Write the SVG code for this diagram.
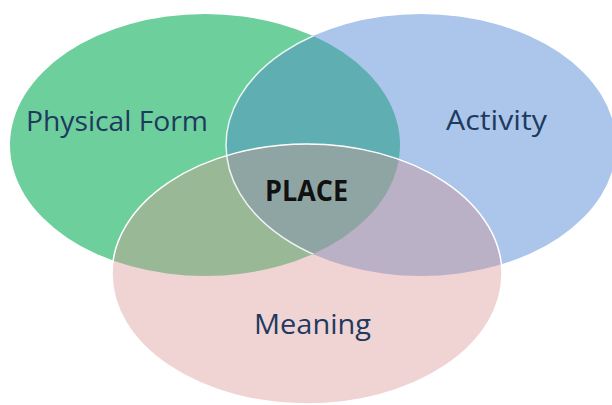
<svg xmlns="http://www.w3.org/2000/svg" width="612" height="405" viewBox="0 0 612 405">
<style>
.lbl{font-family:"Open Sans","Noto Sans","Liberation Sans",sans-serif;font-size:28px;fill:#1F3A5F}
.core{font-family:"Open Sans","Noto Sans","Liberation Sans",sans-serif;font-size:29px;font-weight:bold;fill:#111111}
</style>
<defs>
<clipPath id="cG"><ellipse cx="205" cy="145" rx="195" ry="131"/></clipPath>
<clipPath id="cB"><ellipse cx="421" cy="145" rx="195" ry="131"/></clipPath>
<clipPath id="cP"><ellipse cx="307" cy="274" rx="195" ry="130"/></clipPath>
</defs>
<rect width="612" height="405" fill="#FFFFFF"/>
<g id="physical-form">
<ellipse cx="205" cy="145" rx="195" ry="131" fill="#6DCF9B"/>
</g>
<g id="activity">
<ellipse cx="421" cy="145" rx="195" ry="131" fill="#ABC6EA"/>
</g>
<g id="meaning">
<ellipse cx="307" cy="274" rx="195" ry="130" fill="#F0D4D4"/>
</g>
<g id="overlaps">
<g clip-path="url(#cG)"><ellipse cx="421" cy="145" rx="195" ry="131" fill="#5FAEB2"/></g>
<g clip-path="url(#cG)"><ellipse cx="307" cy="274" rx="195" ry="130" fill="#99B996"/></g>
<g clip-path="url(#cB)"><ellipse cx="307" cy="274" rx="195" ry="130" fill="#BAB1C6"/></g>
<g clip-path="url(#cG)"><g clip-path="url(#cB)"><ellipse cx="307" cy="274" rx="195" ry="130" fill="#8FA5A4"/></g></g>
</g>
<g id="outlines" fill="none" stroke-width="1.5">
<g clip-path="url(#cG)"><ellipse cx="421" cy="145" rx="195" ry="131" stroke="#FFFFFF" stroke-opacity="0.85"/></g>
<ellipse cx="307" cy="274" rx="195" ry="130" stroke="#FFFFFF"/>
</g>
<g id="labels">
<text class="lbl" x="26" y="131" textLength="182" lengthAdjust="spacingAndGlyphs">Physical Form</text>
<text class="lbl" x="446" y="130" textLength="101" lengthAdjust="spacingAndGlyphs">Activity</text>
<text class="lbl" x="254" y="334" textLength="117" lengthAdjust="spacingAndGlyphs">Meaning</text>
<text class="core" x="265" y="201" textLength="83" lengthAdjust="spacingAndGlyphs">PLACE</text>
</g>
</svg>
